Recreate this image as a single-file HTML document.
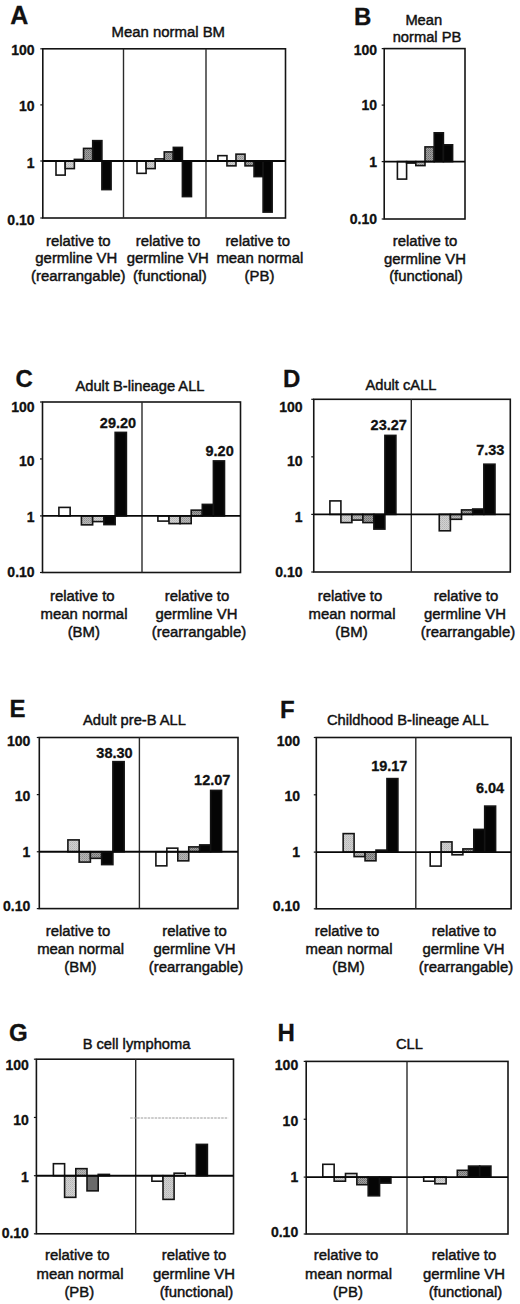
<!DOCTYPE html>
<html><head><meta charset="utf-8"><style>
html,body{margin:0;padding:0;background:#fff;}
svg{display:block;}
text{font-family:"Liberation Sans", sans-serif;}
</style></head><body>
<svg width="520" height="1304" viewBox="0 0 520 1304">
<defs>
<pattern id="pl" width="2" height="2" patternUnits="userSpaceOnUse"><rect width="2" height="2" fill="#d2d2d2"/><rect width="1" height="1" fill="#b4b4b4"/><rect x="1" y="1" width="1" height="1" fill="#c0c0c0"/></pattern>
<pattern id="pm" width="2" height="2" patternUnits="userSpaceOnUse"><rect width="2" height="2" fill="#b8b8b8"/><rect width="1" height="1" fill="#909090"/><rect x="1" y="1" width="1" height="1" fill="#a0a0a0"/></pattern>
<pattern id="pd" width="2" height="2" patternUnits="userSpaceOnUse"><rect width="2" height="2" fill="#a0a0a0"/><rect width="1" height="1" fill="#6c6c6c"/><rect x="1" y="1" width="1" height="1" fill="#808080"/></pattern>
</defs>
<rect width="520" height="1304" fill="#fff"/>
<rect x="56.00" y="161.00" width="9.18" height="14.10" fill="#fff" stroke="#141414" stroke-width="1.6"/>
<rect x="65.18" y="161.00" width="9.18" height="7.60" fill="url(#pl)" stroke="#141414" stroke-width="1.6"/>
<rect x="74.36" y="159.40" width="9.18" height="1.60" fill="#e6e6e6" stroke="#141414" stroke-width="1.6"/>
<rect x="83.54" y="148.40" width="9.18" height="12.60" fill="url(#pd)" stroke="#141414" stroke-width="1.6"/>
<rect x="92.72" y="140.65" width="9.18" height="20.35" fill="#050505" stroke="#141414" stroke-width="1.6"/>
<rect x="101.90" y="161.00" width="9.18" height="28.60" fill="#050505" stroke="#141414" stroke-width="1.6"/>
<rect x="137.00" y="161.00" width="9.08" height="12.35" fill="#fff" stroke="#141414" stroke-width="1.6"/>
<rect x="146.08" y="161.00" width="9.08" height="7.60" fill="url(#pl)" stroke="#141414" stroke-width="1.6"/>
<rect x="155.16" y="158.90" width="9.08" height="2.10" fill="#e6e6e6" stroke="#141414" stroke-width="1.6"/>
<rect x="164.24" y="151.90" width="9.08" height="9.10" fill="url(#pd)" stroke="#141414" stroke-width="1.6"/>
<rect x="173.32" y="147.40" width="9.08" height="13.60" fill="#050505" stroke="#141414" stroke-width="1.6"/>
<rect x="182.40" y="161.00" width="9.08" height="35.60" fill="#050505" stroke="#141414" stroke-width="1.6"/>
<rect x="217.90" y="155.65" width="9.04" height="5.35" fill="#fff" stroke="#141414" stroke-width="1.6"/>
<rect x="226.94" y="161.00" width="9.04" height="4.85" fill="url(#pl)" stroke="#141414" stroke-width="1.6"/>
<rect x="235.98" y="154.15" width="9.04" height="6.85" fill="url(#pm)" stroke="#141414" stroke-width="1.6"/>
<rect x="245.02" y="161.00" width="9.04" height="4.85" fill="url(#pd)" stroke="#141414" stroke-width="1.6"/>
<rect x="254.06" y="161.00" width="9.04" height="15.60" fill="#050505" stroke="#141414" stroke-width="1.6"/>
<rect x="263.10" y="161.00" width="9.04" height="51.10" fill="#050505" stroke="#141414" stroke-width="1.6"/>
<rect x="42.80" y="48.80" width="242.70" height="169.20" fill="none" stroke="#141414" stroke-width="1.6"/>
<line x1="123.50" y1="48.80" x2="123.50" y2="218.00" stroke="#2a2a2a" stroke-width="1.4" />
<line x1="206.00" y1="48.80" x2="206.00" y2="218.00" stroke="#2a2a2a" stroke-width="1.4" />
<line x1="42.80" y1="161.00" x2="285.50" y2="161.00" stroke="#080808" stroke-width="1.9" />
<line x1="40.30" y1="48.80" x2="42.80" y2="48.80" stroke="#141414" stroke-width="1.2" />
<line x1="40.30" y1="104.90" x2="42.80" y2="104.90" stroke="#141414" stroke-width="1.2" />
<line x1="40.30" y1="161.00" x2="42.80" y2="161.00" stroke="#141414" stroke-width="1.2" />
<line x1="40.30" y1="218.00" x2="42.80" y2="218.00" stroke="#141414" stroke-width="1.2" />
<text x="34.60" y="55.40" font-size="14" font-weight="bold" text-anchor="end" fill="#111" stroke="#111" stroke-width="0.3">100</text>
<text x="34.60" y="111.40" font-size="14" font-weight="bold" text-anchor="end" fill="#111" stroke="#111" stroke-width="0.3">10</text>
<text x="34.60" y="168.40" font-size="14" font-weight="bold" text-anchor="end" fill="#111" stroke="#111" stroke-width="0.3">1</text>
<text x="34.60" y="225.40" font-size="14" font-weight="bold" text-anchor="end" fill="#111" stroke="#111" stroke-width="0.3">0.10</text>
<text x="10.30" y="23.90" font-size="25" font-weight="bold" text-anchor="start" fill="#111" stroke="#111" stroke-width="0.3">A</text>
<text x="168.30" y="37.10" font-size="14.9" font-weight="normal" text-anchor="middle" fill="#111" stroke="#111" stroke-width="0.45">Mean normal BM</text>
<text x="78.30" y="245.50" font-size="14.9" font-weight="normal" text-anchor="middle" fill="#111" stroke="#111" stroke-width="0.45">relative to</text>
<text x="76.30" y="263.00" font-size="14.9" font-weight="normal" text-anchor="middle" fill="#111" stroke="#111" stroke-width="0.45">germline VH</text>
<text x="78.30" y="280.50" font-size="14.9" font-weight="normal" text-anchor="middle" fill="#111" stroke="#111" stroke-width="0.45">(rearrangable)</text>
<text x="168.00" y="245.50" font-size="14.9" font-weight="normal" text-anchor="middle" fill="#111" stroke="#111" stroke-width="0.45">relative to</text>
<text x="167.70" y="263.00" font-size="14.9" font-weight="normal" text-anchor="middle" fill="#111" stroke="#111" stroke-width="0.45">germline VH</text>
<text x="169.90" y="280.50" font-size="14.9" font-weight="normal" text-anchor="middle" fill="#111" stroke="#111" stroke-width="0.45">(functional)</text>
<text x="257.70" y="245.50" font-size="14.9" font-weight="normal" text-anchor="middle" fill="#111" stroke="#111" stroke-width="0.45">relative to</text>
<text x="259.90" y="263.00" font-size="14.9" font-weight="normal" text-anchor="middle" fill="#111" stroke="#111" stroke-width="0.45">mean normal</text>
<text x="259.50" y="280.50" font-size="14.9" font-weight="normal" text-anchor="middle" fill="#111" stroke="#111" stroke-width="0.45">(PB)</text>
<rect x="397.40" y="161.60" width="9.20" height="17.50" fill="#ffffff" stroke="#141414" stroke-width="1.6"/>
<rect x="406.60" y="161.60" width="9.20" height="1.50" fill="url(#pl)" stroke="#141414" stroke-width="1.6"/>
<rect x="415.80" y="161.60" width="9.20" height="4.00" fill="url(#pm)" stroke="#141414" stroke-width="1.6"/>
<rect x="425.00" y="146.90" width="9.20" height="14.70" fill="url(#pd)" stroke="#141414" stroke-width="1.6"/>
<rect x="434.20" y="132.80" width="9.20" height="28.80" fill="#050505" stroke="#141414" stroke-width="1.6"/>
<rect x="443.40" y="144.80" width="9.20" height="16.80" fill="#050505" stroke="#141414" stroke-width="1.6"/>
<rect x="384.20" y="48.60" width="80.80" height="170.40" fill="none" stroke="#141414" stroke-width="1.6"/>
<line x1="384.20" y1="161.60" x2="465.00" y2="161.60" stroke="#080808" stroke-width="1.9" />
<line x1="381.70" y1="48.60" x2="384.20" y2="48.60" stroke="#141414" stroke-width="1.2" />
<line x1="381.70" y1="105.10" x2="384.20" y2="105.10" stroke="#141414" stroke-width="1.2" />
<line x1="381.70" y1="161.60" x2="384.20" y2="161.60" stroke="#141414" stroke-width="1.2" />
<line x1="381.70" y1="219.00" x2="384.20" y2="219.00" stroke="#141414" stroke-width="1.2" />
<text x="377.00" y="54.50" font-size="14" font-weight="bold" text-anchor="end" fill="#111" stroke="#111" stroke-width="0.3">100</text>
<text x="377.00" y="110.00" font-size="14" font-weight="bold" text-anchor="end" fill="#111" stroke="#111" stroke-width="0.3">10</text>
<text x="377.00" y="167.00" font-size="14" font-weight="bold" text-anchor="end" fill="#111" stroke="#111" stroke-width="0.3">1</text>
<text x="377.00" y="223.70" font-size="14" font-weight="bold" text-anchor="end" fill="#111" stroke="#111" stroke-width="0.3">0.10</text>
<text x="354.00" y="24.50" font-size="24" font-weight="bold" text-anchor="start" fill="#111" stroke="#111" stroke-width="0.3">B</text>
<text x="423.75" y="25.00" font-size="14.7" font-weight="normal" text-anchor="middle" fill="#111" stroke="#111" stroke-width="0.45">Mean</text>
<text x="427.00" y="41.50" font-size="14.7" font-weight="normal" text-anchor="middle" fill="#111" stroke="#111" stroke-width="0.45">normal PB</text>
<text x="425.00" y="246.00" font-size="14.9" font-weight="normal" text-anchor="middle" fill="#111" stroke="#111" stroke-width="0.45">relative to</text>
<text x="425.00" y="263.50" font-size="14.9" font-weight="normal" text-anchor="middle" fill="#111" stroke="#111" stroke-width="0.45">germline VH</text>
<text x="426.00" y="281.00" font-size="14.9" font-weight="normal" text-anchor="middle" fill="#111" stroke="#111" stroke-width="0.45">(functional)</text>
<rect x="58.90" y="507.40" width="11.25" height="8.50" fill="#fff" stroke="#141414" stroke-width="1.6"/>
<rect x="81.40" y="515.90" width="11.25" height="8.95" fill="url(#pm)" stroke="#141414" stroke-width="1.6"/>
<rect x="92.65" y="515.90" width="11.25" height="5.70" fill="url(#pl)" stroke="#141414" stroke-width="1.6"/>
<rect x="103.90" y="515.90" width="11.25" height="8.70" fill="#050505" stroke="#141414" stroke-width="1.6"/>
<rect x="115.15" y="432.40" width="11.25" height="83.50" fill="#050505" stroke="#141414" stroke-width="1.6"/>
<rect x="157.90" y="515.90" width="11.10" height="5.20" fill="#ffffff" stroke="#141414" stroke-width="1.6"/>
<rect x="169.00" y="515.90" width="11.10" height="7.70" fill="url(#pl)" stroke="#141414" stroke-width="1.6"/>
<rect x="180.10" y="515.90" width="11.10" height="7.70" fill="url(#pm)" stroke="#141414" stroke-width="1.6"/>
<rect x="191.20" y="510.15" width="11.10" height="5.75" fill="url(#pd)" stroke="#141414" stroke-width="1.6"/>
<rect x="202.30" y="504.40" width="11.10" height="11.50" fill="#050505" stroke="#141414" stroke-width="1.6"/>
<rect x="213.40" y="460.90" width="11.10" height="55.00" fill="#050505" stroke="#141414" stroke-width="1.6"/>
<rect x="42.50" y="402.00" width="198.00" height="170.50" fill="none" stroke="#141414" stroke-width="1.6"/>
<line x1="142.00" y1="402.00" x2="142.00" y2="572.50" stroke="#2a2a2a" stroke-width="1.4" />
<line x1="42.50" y1="515.90" x2="240.50" y2="515.90" stroke="#080808" stroke-width="1.9" />
<line x1="40.00" y1="402.00" x2="42.50" y2="402.00" stroke="#141414" stroke-width="1.2" />
<line x1="40.00" y1="458.95" x2="42.50" y2="458.95" stroke="#141414" stroke-width="1.2" />
<line x1="40.00" y1="515.90" x2="42.50" y2="515.90" stroke="#141414" stroke-width="1.2" />
<line x1="40.00" y1="572.50" x2="42.50" y2="572.50" stroke="#141414" stroke-width="1.2" />
<text x="34.60" y="412.10" font-size="14" font-weight="bold" text-anchor="end" fill="#111" stroke="#111" stroke-width="0.3">100</text>
<text x="34.60" y="466.30" font-size="14" font-weight="bold" text-anchor="end" fill="#111" stroke="#111" stroke-width="0.3">10</text>
<text x="34.60" y="521.90" font-size="14" font-weight="bold" text-anchor="end" fill="#111" stroke="#111" stroke-width="0.3">1</text>
<text x="34.60" y="576.50" font-size="14" font-weight="bold" text-anchor="end" fill="#111" stroke="#111" stroke-width="0.3">0.10</text>
<text x="15.50" y="387.00" font-size="24" font-weight="bold" text-anchor="start" fill="#111" stroke="#111" stroke-width="0.3">C</text>
<text x="140.00" y="391.00" font-size="14.7" font-weight="normal" text-anchor="middle" fill="#111" stroke="#111" stroke-width="0.45">Adult B-lineage ALL</text>
<text x="118.00" y="427.50" font-size="14.5" font-weight="bold" text-anchor="middle" fill="#111" stroke="#111" stroke-width="0.3">29.20</text>
<text x="219.60" y="456.00" font-size="14.5" font-weight="bold" text-anchor="middle" fill="#111" stroke="#111" stroke-width="0.3">9.20</text>
<text x="82.30" y="600.80" font-size="14.9" font-weight="normal" text-anchor="middle" fill="#111" stroke="#111" stroke-width="0.45">relative to</text>
<text x="84.00" y="619.00" font-size="14.9" font-weight="normal" text-anchor="middle" fill="#111" stroke="#111" stroke-width="0.45">mean normal</text>
<text x="83.80" y="637.20" font-size="14.9" font-weight="normal" text-anchor="middle" fill="#111" stroke="#111" stroke-width="0.45">(BM)</text>
<text x="197.00" y="600.80" font-size="14.9" font-weight="normal" text-anchor="middle" fill="#111" stroke="#111" stroke-width="0.45">relative to</text>
<text x="196.50" y="619.00" font-size="14.9" font-weight="normal" text-anchor="middle" fill="#111" stroke="#111" stroke-width="0.45">germline VH</text>
<text x="199.00" y="637.20" font-size="14.9" font-weight="normal" text-anchor="middle" fill="#111" stroke="#111" stroke-width="0.45">(rearrangable)</text>
<rect x="329.90" y="500.90" width="11.00" height="13.50" fill="#ffffff" stroke="#141414" stroke-width="1.6"/>
<rect x="340.90" y="514.40" width="11.00" height="8.20" fill="url(#pl)" stroke="#141414" stroke-width="1.6"/>
<rect x="351.90" y="514.40" width="11.00" height="5.70" fill="url(#pm)" stroke="#141414" stroke-width="1.6"/>
<rect x="362.90" y="514.40" width="11.00" height="8.20" fill="url(#pd)" stroke="#141414" stroke-width="1.6"/>
<rect x="373.90" y="514.40" width="11.00" height="14.70" fill="#050505" stroke="#141414" stroke-width="1.6"/>
<rect x="384.90" y="435.40" width="11.00" height="79.00" fill="#050505" stroke="#141414" stroke-width="1.6"/>
<rect x="439.25" y="514.40" width="11.15" height="16.40" fill="url(#pl)" stroke="#141414" stroke-width="1.6"/>
<rect x="450.40" y="514.40" width="11.15" height="4.90" fill="url(#pm)" stroke="#141414" stroke-width="1.6"/>
<rect x="461.55" y="509.90" width="11.15" height="4.50" fill="url(#pd)" stroke="#141414" stroke-width="1.6"/>
<rect x="472.70" y="509.00" width="11.15" height="5.40" fill="#050505" stroke="#141414" stroke-width="1.6"/>
<rect x="483.85" y="464.20" width="11.15" height="50.20" fill="#050505" stroke="#141414" stroke-width="1.6"/>
<rect x="313.75" y="399.30" width="196.55" height="172.70" fill="none" stroke="#141414" stroke-width="1.6"/>
<line x1="411.30" y1="399.30" x2="411.30" y2="572.00" stroke="#2a2a2a" stroke-width="1.4" />
<line x1="313.75" y1="514.40" x2="510.30" y2="514.40" stroke="#080808" stroke-width="1.9" />
<line x1="311.25" y1="399.30" x2="313.75" y2="399.30" stroke="#141414" stroke-width="1.2" />
<line x1="311.25" y1="456.85" x2="313.75" y2="456.85" stroke="#141414" stroke-width="1.2" />
<line x1="311.25" y1="514.40" x2="313.75" y2="514.40" stroke="#141414" stroke-width="1.2" />
<line x1="311.25" y1="572.00" x2="313.75" y2="572.00" stroke="#141414" stroke-width="1.2" />
<text x="302.50" y="412.00" font-size="14" font-weight="bold" text-anchor="end" fill="#111" stroke="#111" stroke-width="0.3">100</text>
<text x="302.50" y="466.40" font-size="14" font-weight="bold" text-anchor="end" fill="#111" stroke="#111" stroke-width="0.3">10</text>
<text x="302.50" y="522.00" font-size="14" font-weight="bold" text-anchor="end" fill="#111" stroke="#111" stroke-width="0.3">1</text>
<text x="302.50" y="577.00" font-size="14" font-weight="bold" text-anchor="end" fill="#111" stroke="#111" stroke-width="0.3">0.10</text>
<text x="283.00" y="386.50" font-size="24" font-weight="bold" text-anchor="start" fill="#111" stroke="#111" stroke-width="0.3">D</text>
<text x="401.00" y="390.00" font-size="14.7" font-weight="normal" text-anchor="middle" fill="#111" stroke="#111" stroke-width="0.45">Adult cALL</text>
<text x="388.75" y="430.00" font-size="14.5" font-weight="bold" text-anchor="middle" fill="#111" stroke="#111" stroke-width="0.3">23.27</text>
<text x="490.25" y="455.00" font-size="14.5" font-weight="bold" text-anchor="middle" fill="#111" stroke="#111" stroke-width="0.3">7.33</text>
<text x="350.00" y="600.80" font-size="14.9" font-weight="normal" text-anchor="middle" fill="#111" stroke="#111" stroke-width="0.45">relative to</text>
<text x="352.00" y="619.00" font-size="14.9" font-weight="normal" text-anchor="middle" fill="#111" stroke="#111" stroke-width="0.45">mean normal</text>
<text x="351.50" y="637.20" font-size="14.9" font-weight="normal" text-anchor="middle" fill="#111" stroke="#111" stroke-width="0.45">(BM)</text>
<text x="466.00" y="600.80" font-size="14.9" font-weight="normal" text-anchor="middle" fill="#111" stroke="#111" stroke-width="0.45">relative to</text>
<text x="465.00" y="619.00" font-size="14.9" font-weight="normal" text-anchor="middle" fill="#111" stroke="#111" stroke-width="0.45">germline VH</text>
<text x="468.00" y="637.20" font-size="14.9" font-weight="normal" text-anchor="middle" fill="#111" stroke="#111" stroke-width="0.45">(rearrangable)</text>
<rect x="67.90" y="839.90" width="11.25" height="11.85" fill="url(#pl)" stroke="#141414" stroke-width="1.6"/>
<rect x="79.15" y="851.75" width="11.25" height="10.35" fill="url(#pm)" stroke="#141414" stroke-width="1.6"/>
<rect x="90.40" y="851.75" width="11.25" height="6.60" fill="url(#pd)" stroke="#141414" stroke-width="1.6"/>
<rect x="101.65" y="851.75" width="11.25" height="12.85" fill="#050505" stroke="#141414" stroke-width="1.6"/>
<rect x="112.90" y="761.65" width="11.25" height="90.10" fill="#050505" stroke="#141414" stroke-width="1.6"/>
<rect x="155.90" y="851.75" width="10.95" height="14.10" fill="#fff" stroke="#141414" stroke-width="1.6"/>
<rect x="166.85" y="848.15" width="10.95" height="3.60" fill="#fff" stroke="#141414" stroke-width="1.6"/>
<rect x="177.80" y="851.75" width="10.95" height="9.10" fill="url(#pm)" stroke="#141414" stroke-width="1.6"/>
<rect x="188.75" y="846.90" width="10.95" height="4.85" fill="url(#pd)" stroke="#141414" stroke-width="1.6"/>
<rect x="199.70" y="844.90" width="10.95" height="6.85" fill="#050505" stroke="#141414" stroke-width="1.6"/>
<rect x="210.65" y="790.40" width="10.95" height="61.35" fill="#050505" stroke="#141414" stroke-width="1.6"/>
<rect x="39.30" y="737.50" width="198.70" height="171.10" fill="none" stroke="#141414" stroke-width="1.6"/>
<line x1="139.40" y1="737.50" x2="139.40" y2="908.60" stroke="#2a2a2a" stroke-width="1.4" />
<line x1="39.30" y1="851.75" x2="238.00" y2="851.75" stroke="#080808" stroke-width="1.9" />
<line x1="36.80" y1="737.50" x2="39.30" y2="737.50" stroke="#141414" stroke-width="1.2" />
<line x1="36.80" y1="794.62" x2="39.30" y2="794.62" stroke="#141414" stroke-width="1.2" />
<line x1="36.80" y1="851.75" x2="39.30" y2="851.75" stroke="#141414" stroke-width="1.2" />
<line x1="36.80" y1="908.60" x2="39.30" y2="908.60" stroke="#141414" stroke-width="1.2" />
<text x="30.30" y="746.00" font-size="14" font-weight="bold" text-anchor="end" fill="#111" stroke="#111" stroke-width="0.3">100</text>
<text x="30.30" y="800.70" font-size="14" font-weight="bold" text-anchor="end" fill="#111" stroke="#111" stroke-width="0.3">10</text>
<text x="30.30" y="856.80" font-size="14" font-weight="bold" text-anchor="end" fill="#111" stroke="#111" stroke-width="0.3">1</text>
<text x="30.30" y="911.40" font-size="14" font-weight="bold" text-anchor="end" fill="#111" stroke="#111" stroke-width="0.3">0.10</text>
<text x="9.50" y="717.00" font-size="24" font-weight="bold" text-anchor="start" fill="#111" stroke="#111" stroke-width="0.3">E</text>
<text x="134.50" y="725.00" font-size="14.7" font-weight="normal" text-anchor="middle" fill="#111" stroke="#111" stroke-width="0.45">Adult pre-B ALL</text>
<text x="114.50" y="757.50" font-size="14.5" font-weight="bold" text-anchor="middle" fill="#111" stroke="#111" stroke-width="0.3">38.30</text>
<text x="212.25" y="785.00" font-size="14.5" font-weight="bold" text-anchor="middle" fill="#111" stroke="#111" stroke-width="0.3">12.07</text>
<text x="78.00" y="935.80" font-size="14.9" font-weight="normal" text-anchor="middle" fill="#111" stroke="#111" stroke-width="0.45">relative to</text>
<text x="80.60" y="953.85" font-size="14.9" font-weight="normal" text-anchor="middle" fill="#111" stroke="#111" stroke-width="0.45">mean normal</text>
<text x="80.40" y="971.90" font-size="14.9" font-weight="normal" text-anchor="middle" fill="#111" stroke="#111" stroke-width="0.45">(BM)</text>
<text x="194.50" y="935.80" font-size="14.9" font-weight="normal" text-anchor="middle" fill="#111" stroke="#111" stroke-width="0.45">relative to</text>
<text x="194.50" y="953.85" font-size="14.9" font-weight="normal" text-anchor="middle" fill="#111" stroke="#111" stroke-width="0.45">germline VH</text>
<text x="196.00" y="971.90" font-size="14.9" font-weight="normal" text-anchor="middle" fill="#111" stroke="#111" stroke-width="0.45">(rearrangable)</text>
<rect x="343.15" y="833.60" width="10.95" height="18.50" fill="url(#pl)" stroke="#141414" stroke-width="1.6"/>
<rect x="354.10" y="852.10" width="10.95" height="4.50" fill="url(#pm)" stroke="#141414" stroke-width="1.6"/>
<rect x="365.05" y="852.10" width="10.95" height="8.70" fill="url(#pd)" stroke="#141414" stroke-width="1.6"/>
<rect x="376.00" y="850.10" width="10.95" height="2.00" fill="#050505" stroke="#141414" stroke-width="1.6"/>
<rect x="386.95" y="778.60" width="10.95" height="73.50" fill="#050505" stroke="#141414" stroke-width="1.6"/>
<rect x="430.20" y="852.10" width="10.90" height="14.00" fill="#fff" stroke="#141414" stroke-width="1.6"/>
<rect x="441.10" y="841.90" width="10.90" height="10.20" fill="url(#pl)" stroke="#141414" stroke-width="1.6"/>
<rect x="452.00" y="852.10" width="10.90" height="2.70" fill="#e0e0e0" stroke="#141414" stroke-width="1.6"/>
<rect x="462.90" y="848.90" width="10.90" height="3.20" fill="url(#pd)" stroke="#141414" stroke-width="1.6"/>
<rect x="473.80" y="829.40" width="10.90" height="22.70" fill="#050505" stroke="#141414" stroke-width="1.6"/>
<rect x="484.70" y="806.10" width="10.90" height="46.00" fill="#050505" stroke="#141414" stroke-width="1.6"/>
<rect x="316.30" y="737.50" width="194.80" height="171.30" fill="none" stroke="#141414" stroke-width="1.6"/>
<line x1="415.80" y1="737.50" x2="415.80" y2="908.80" stroke="#2a2a2a" stroke-width="1.4" />
<line x1="316.30" y1="852.10" x2="511.10" y2="852.10" stroke="#080808" stroke-width="1.9" />
<line x1="313.80" y1="737.50" x2="316.30" y2="737.50" stroke="#141414" stroke-width="1.2" />
<line x1="313.80" y1="794.80" x2="316.30" y2="794.80" stroke="#141414" stroke-width="1.2" />
<line x1="313.80" y1="852.10" x2="316.30" y2="852.10" stroke="#141414" stroke-width="1.2" />
<line x1="313.80" y1="908.80" x2="316.30" y2="908.80" stroke="#141414" stroke-width="1.2" />
<text x="300.00" y="746.00" font-size="14" font-weight="bold" text-anchor="end" fill="#111" stroke="#111" stroke-width="0.3">100</text>
<text x="300.00" y="800.70" font-size="14" font-weight="bold" text-anchor="end" fill="#111" stroke="#111" stroke-width="0.3">10</text>
<text x="300.00" y="856.80" font-size="14" font-weight="bold" text-anchor="end" fill="#111" stroke="#111" stroke-width="0.3">1</text>
<text x="300.00" y="911.40" font-size="14" font-weight="bold" text-anchor="end" fill="#111" stroke="#111" stroke-width="0.3">0.10</text>
<text x="280.00" y="717.50" font-size="24" font-weight="bold" text-anchor="start" fill="#111" stroke="#111" stroke-width="0.3">F</text>
<text x="407.85" y="725.00" font-size="14.7" font-weight="normal" text-anchor="middle" fill="#111" stroke="#111" stroke-width="0.45">Childhood B-lineage ALL</text>
<text x="389.30" y="771.25" font-size="14.5" font-weight="bold" text-anchor="middle" fill="#111" stroke="#111" stroke-width="0.3">19.17</text>
<text x="490.00" y="792.60" font-size="14.5" font-weight="bold" text-anchor="middle" fill="#111" stroke="#111" stroke-width="0.3">6.04</text>
<text x="347.00" y="935.80" font-size="14.9" font-weight="normal" text-anchor="middle" fill="#111" stroke="#111" stroke-width="0.45">relative to</text>
<text x="349.00" y="953.85" font-size="14.9" font-weight="normal" text-anchor="middle" fill="#111" stroke="#111" stroke-width="0.45">mean normal</text>
<text x="348.50" y="971.90" font-size="14.9" font-weight="normal" text-anchor="middle" fill="#111" stroke="#111" stroke-width="0.45">(BM)</text>
<text x="464.00" y="935.80" font-size="14.9" font-weight="normal" text-anchor="middle" fill="#111" stroke="#111" stroke-width="0.45">relative to</text>
<text x="463.50" y="953.85" font-size="14.9" font-weight="normal" text-anchor="middle" fill="#111" stroke="#111" stroke-width="0.45">germline VH</text>
<text x="466.00" y="971.90" font-size="14.9" font-weight="normal" text-anchor="middle" fill="#111" stroke="#111" stroke-width="0.45">(rearrangable)</text>
<rect x="53.40" y="1163.70" width="11.20" height="12.00" fill="#fff" stroke="#141414" stroke-width="1.6"/>
<rect x="64.60" y="1175.70" width="11.20" height="21.65" fill="url(#pl)" stroke="#141414" stroke-width="1.6"/>
<rect x="75.80" y="1168.65" width="11.20" height="7.05" fill="url(#pm)" stroke="#141414" stroke-width="1.6"/>
<rect x="87.00" y="1175.70" width="11.20" height="15.15" fill="#6a6a6a" stroke="#141414" stroke-width="1.6"/>
<rect x="98.20" y="1174.40" width="11.20" height="1.30" fill="#050505" stroke="#141414" stroke-width="1.6"/>
<rect x="151.90" y="1175.70" width="11.10" height="5.50" fill="#fff" stroke="#141414" stroke-width="1.6"/>
<rect x="163.00" y="1175.70" width="11.10" height="23.70" fill="url(#pl)" stroke="#141414" stroke-width="1.6"/>
<rect x="174.10" y="1173.20" width="11.10" height="2.50" fill="#fff" stroke="#141414" stroke-width="1.6"/>
<rect x="196.30" y="1144.40" width="11.10" height="31.30" fill="#050505" stroke="#141414" stroke-width="1.6"/>
<rect x="36.40" y="1059.20" width="197.10" height="174.60" fill="none" stroke="#141414" stroke-width="1.6"/>
<line x1="135.70" y1="1059.20" x2="135.70" y2="1233.80" stroke="#2a2a2a" stroke-width="1.4" />
<line x1="36.40" y1="1175.70" x2="233.50" y2="1175.70" stroke="#080808" stroke-width="1.9" />
<line x1="33.90" y1="1059.20" x2="36.40" y2="1059.20" stroke="#141414" stroke-width="1.2" />
<line x1="33.90" y1="1117.45" x2="36.40" y2="1117.45" stroke="#141414" stroke-width="1.2" />
<line x1="33.90" y1="1175.70" x2="36.40" y2="1175.70" stroke="#141414" stroke-width="1.2" />
<line x1="33.90" y1="1233.80" x2="36.40" y2="1233.80" stroke="#141414" stroke-width="1.2" />
<text x="28.90" y="1070.00" font-size="14" font-weight="bold" text-anchor="end" fill="#111" stroke="#111" stroke-width="0.3">100</text>
<text x="28.90" y="1124.60" font-size="14" font-weight="bold" text-anchor="end" fill="#111" stroke="#111" stroke-width="0.3">10</text>
<text x="28.90" y="1181.50" font-size="14" font-weight="bold" text-anchor="end" fill="#111" stroke="#111" stroke-width="0.3">1</text>
<text x="28.90" y="1238.00" font-size="14" font-weight="bold" text-anchor="end" fill="#111" stroke="#111" stroke-width="0.3">0.10</text>
<text x="9.00" y="1041.00" font-size="24" font-weight="bold" text-anchor="start" fill="#111" stroke="#111" stroke-width="0.3">G</text>
<text x="136.50" y="1049.00" font-size="14.7" font-weight="normal" text-anchor="middle" fill="#111" stroke="#111" stroke-width="0.45">B cell lymphoma</text>
<text x="77.30" y="1260.30" font-size="14.9" font-weight="normal" text-anchor="middle" fill="#111" stroke="#111" stroke-width="0.45">relative to</text>
<text x="80.00" y="1278.60" font-size="14.9" font-weight="normal" text-anchor="middle" fill="#111" stroke="#111" stroke-width="0.45">mean normal</text>
<text x="79.30" y="1296.90" font-size="14.9" font-weight="normal" text-anchor="middle" fill="#111" stroke="#111" stroke-width="0.45">(PB)</text>
<text x="194.00" y="1260.30" font-size="14.9" font-weight="normal" text-anchor="middle" fill="#111" stroke="#111" stroke-width="0.45">relative to</text>
<text x="194.00" y="1278.60" font-size="14.9" font-weight="normal" text-anchor="middle" fill="#111" stroke="#111" stroke-width="0.45">germline VH</text>
<text x="196.50" y="1296.90" font-size="14.9" font-weight="normal" text-anchor="middle" fill="#111" stroke="#111" stroke-width="0.45">(functional)</text>
<rect x="322.80" y="1164.30" width="11.35" height="12.80" fill="#fff" stroke="#141414" stroke-width="1.6"/>
<rect x="334.15" y="1177.10" width="11.35" height="4.10" fill="url(#pl)" stroke="#141414" stroke-width="1.6"/>
<rect x="345.50" y="1173.50" width="11.35" height="3.60" fill="#d8d8d8" stroke="#141414" stroke-width="1.6"/>
<rect x="356.85" y="1177.10" width="11.35" height="7.60" fill="url(#pd)" stroke="#141414" stroke-width="1.6"/>
<rect x="368.20" y="1177.10" width="11.35" height="18.70" fill="#050505" stroke="#141414" stroke-width="1.6"/>
<rect x="379.55" y="1177.10" width="11.35" height="6.00" fill="#050505" stroke="#141414" stroke-width="1.6"/>
<rect x="423.70" y="1177.10" width="11.20" height="4.10" fill="#ffffff" stroke="#141414" stroke-width="1.6"/>
<rect x="434.90" y="1177.10" width="11.20" height="6.70" fill="url(#pl)" stroke="#141414" stroke-width="1.6"/>
<rect x="457.30" y="1170.30" width="11.20" height="6.80" fill="url(#pd)" stroke="#141414" stroke-width="1.6"/>
<rect x="468.50" y="1166.10" width="11.20" height="11.00" fill="#050505" stroke="#141414" stroke-width="1.6"/>
<rect x="479.70" y="1166.10" width="11.20" height="11.00" fill="#050505" stroke="#141414" stroke-width="1.6"/>
<rect x="306.20" y="1061.40" width="201.80" height="172.60" fill="none" stroke="#141414" stroke-width="1.6"/>
<line x1="407.00" y1="1061.40" x2="407.00" y2="1234.00" stroke="#2a2a2a" stroke-width="1.4" />
<line x1="306.20" y1="1177.10" x2="508.00" y2="1177.10" stroke="#080808" stroke-width="1.9" />
<line x1="303.70" y1="1061.40" x2="306.20" y2="1061.40" stroke="#141414" stroke-width="1.2" />
<line x1="303.70" y1="1119.25" x2="306.20" y2="1119.25" stroke="#141414" stroke-width="1.2" />
<line x1="303.70" y1="1177.10" x2="306.20" y2="1177.10" stroke="#141414" stroke-width="1.2" />
<line x1="303.70" y1="1234.00" x2="306.20" y2="1234.00" stroke="#141414" stroke-width="1.2" />
<text x="298.20" y="1070.00" font-size="14" font-weight="bold" text-anchor="end" fill="#111" stroke="#111" stroke-width="0.3">100</text>
<text x="298.20" y="1125.80" font-size="14" font-weight="bold" text-anchor="end" fill="#111" stroke="#111" stroke-width="0.3">10</text>
<text x="298.20" y="1181.90" font-size="14" font-weight="bold" text-anchor="end" fill="#111" stroke="#111" stroke-width="0.3">1</text>
<text x="298.20" y="1236.50" font-size="14" font-weight="bold" text-anchor="end" fill="#111" stroke="#111" stroke-width="0.3">0.10</text>
<text x="277.50" y="1041.00" font-size="24" font-weight="bold" text-anchor="start" fill="#111" stroke="#111" stroke-width="0.3">H</text>
<text x="409.50" y="1049.00" font-size="14.7" font-weight="normal" text-anchor="middle" fill="#111" stroke="#111" stroke-width="0.45">CLL</text>
<text x="346.00" y="1260.30" font-size="14.9" font-weight="normal" text-anchor="middle" fill="#111" stroke="#111" stroke-width="0.45">relative to</text>
<text x="348.50" y="1278.60" font-size="14.9" font-weight="normal" text-anchor="middle" fill="#111" stroke="#111" stroke-width="0.45">mean normal</text>
<text x="348.00" y="1296.90" font-size="14.9" font-weight="normal" text-anchor="middle" fill="#111" stroke="#111" stroke-width="0.45">(PB)</text>
<text x="464.00" y="1260.30" font-size="14.9" font-weight="normal" text-anchor="middle" fill="#111" stroke="#111" stroke-width="0.45">relative to</text>
<text x="464.00" y="1278.60" font-size="14.9" font-weight="normal" text-anchor="middle" fill="#111" stroke="#111" stroke-width="0.45">germline VH</text>
<text x="465.50" y="1296.90" font-size="14.9" font-weight="normal" text-anchor="middle" fill="#111" stroke="#111" stroke-width="0.45">(functional)</text>
<line x1="130.20" y1="1118.00" x2="228.30" y2="1118.00" stroke="#9a9a9a" stroke-width="1" stroke-dasharray="2.5,1"/>
</svg>
</body></html>
